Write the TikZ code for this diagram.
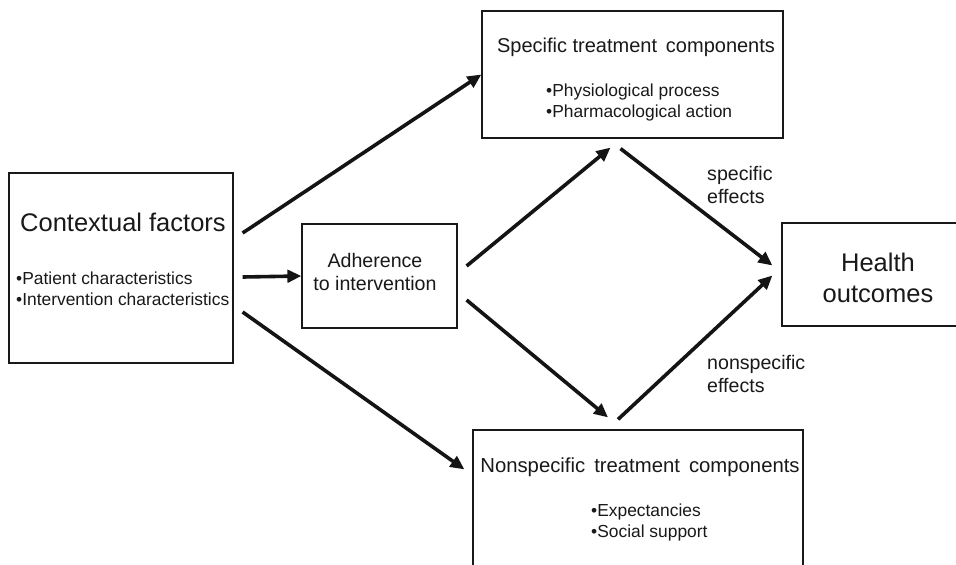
\documentclass[tikz,border=0pt]{standalone}
\usepackage{fontspec}
\setmainfont{Liberation Sans}
\usetikzlibrary{arrows.meta,calc}

\tikzset{
  box/.style={draw=black!90, line width=1.2pt, rectangle, inner sep=0pt},
  txt/.style={inner sep=0pt, text=black!90},
  flow/.style={draw=black!92, line width=3.6pt, -{Triangle[length=14pt,width=12.5pt]}},
}
\newcommand{\fs}[2]{\fontsize{#1}{#2}\selectfont}

\begin{document}
\begin{tikzpicture}[x=1pt, y=-1pt]
  \useasboundingbox (0,0) rectangle (956,565);
  \clip (0,0) rectangle (956,565);
  \fill[white] (0,0) rectangle (956,565);

  % boxes
  \node[box, minimum width=224pt, minimum height=190pt] (ctx)    at (121,268) {};
  \node[box, minimum width=155pt, minimum height=104pt] (adh)    at (379.5,276) {};
  \node[box, minimum width=301pt, minimum height=127pt] (spec)   at (632.5,74.5) {};
  \node[box, minimum width=330pt, minimum height=150pt] (nonsp)  at (638,505) {};
  \node[box, minimum width=178pt, minimum height=103pt] (health) at (871,274.5) {};

  % texts
  \node[txt, anchor=west, font=\fs{25.5}{30}] (ctxT) at (20,222) {Contextual factors};
  \node[txt, anchor=west, align=left, font=\fs{17.4}{20.5}] (ctxL) at (16,289)
    {•Patient characteristics\\•Intervention characteristics};
  \node[txt, align=center, font=\fs{19.6}{23}] (adhT) at (375,272)
    {Adherence\\to intervention};
  \node[txt, font=\fs{20}{24}] (specT) at (636,47) {Specific treatment\, components};
  \node[txt, anchor=west, align=left, font=\fs{17.4}{21}] (specL) at (546,102)
    {•Physiological process\\•Pharmacological action};
  \node[txt, font=\fs{20.3}{24}] (nonspT) at (640,467) {Nonspecific\, treatment\, components};
  \node[txt, anchor=west, align=left, font=\fs{17.4}{21}] (nonspL) at (591,522)
    {•Expectancies\\•Social support};
  \node[txt, align=center, font=\fs{25.5}{31}] (healthT) at (878,278)
    {Health\\outcomes};
  \node[txt, anchor=west, align=left, font=\fs{19.6}{22.5}] (specE) at (707,185)
    {specific\\effects};
  \node[txt, anchor=west, align=left, font=\fs{19.6}{22.5}] (nonspE) at (707,374)
    {nonspecific\\effects};

  % connectors
  \draw[flow] ($(ctx.east)+(9,-35)$) -- (spec.west);
  \draw[flow] ($(ctx.east)+(9,9)$)   -- (adh.west);
  \draw[flow] ($(ctx.east)+(9,44)$)  -- ($(nonsp.north west)+(-8,40)$);
  \draw[flow] ($(adh.east)+(9,-10)$) -- ($(spec.south)+(-22,9)$);
  \draw[flow] ($(adh.east)+(9,24)$)  -- ($(nonsp.north)+(-30,-12)$);
  \draw[flow] ($(spec.south)+(-12,10)$) -- ($(health.west)+(-9,-9)$);
  \draw[flow] ($(nonsp.north)+(-20,-10)$) -- ($(health.west)+(-9,1)$);
\end{tikzpicture}
\end{document}
